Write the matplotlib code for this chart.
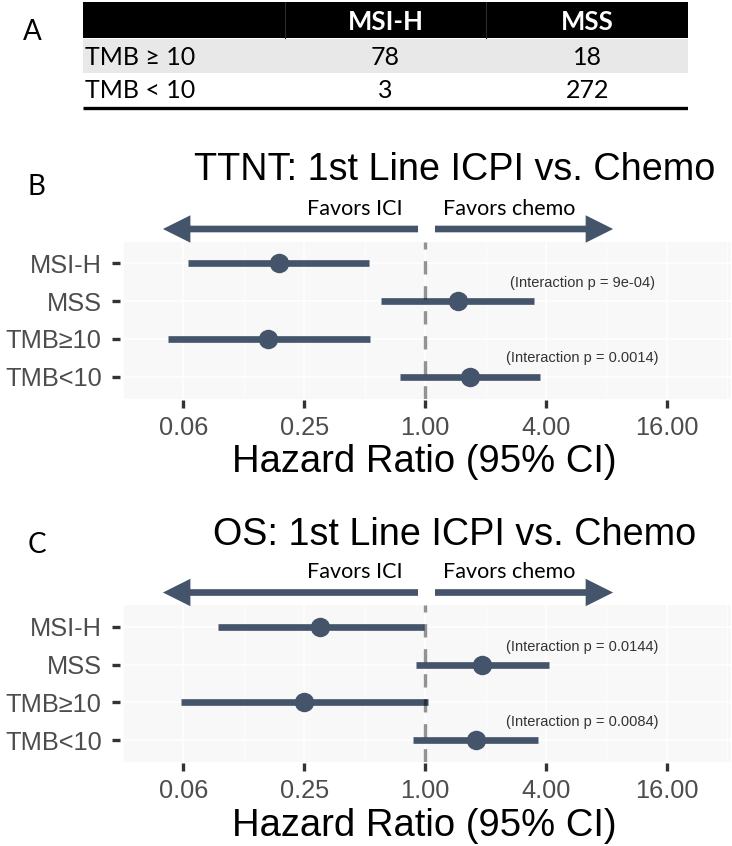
import matplotlib
matplotlib.use("Agg")
import matplotlib.pyplot as plt
from matplotlib.patches import Rectangle
from matplotlib.ticker import FixedLocator, NullFormatter
import numpy as np

# ---------------- data ----------------
table_cols = ["MSI-H", "MSS"]
table_rows = ["TMB \u2265 10", "TMB < 10"]
table_counts = [[78, 18], [3, 272]]

groups = ["MSI-H", "MSS", "TMB\u226510", "TMB<10"]

ttnt_hr = [0.187, 1.45, 0.165, 1.67]
ttnt_lo = [0.066, 0.60, 0.0525, 0.75]
ttnt_hi = [0.526, 3.49, 0.531, 3.73]
ttnt_inter = ["(Interaction p = 9e-04)", "(Interaction p = 0.0014)"]

os_hr = [0.299, 1.92, 0.249, 1.79]
os_lo = [0.0925, 0.897, 0.0607, 0.869]
os_hi = [0.988, 4.13, 1.036, 3.63]
os_inter = ["(Interaction p = 0.0144)", "(Interaction p = 0.0084)"]

tick_values = [0.0625, 0.25, 1, 4, 16]
tick_labels = ["0.06", "0.25", "1.00", "4.00", "16.00"]
minor_values = [0.03125, 0.125, 0.5, 2, 8, 32]

# ---------------- layout ----------------
W, H = 732, 846
fig = plt.figure(figsize=(W / 100, H / 100), dpi=100)
fig.patch.set_facecolor("white")


def fx(px):
    return px / W


def fy(py):
    return 1 - py / H


SANS = ["Liberation Sans", "DejaVu Sans"]
CAL = ["Lato", "DejaVu Sans"]
DARK = "#44546A"

# ---------------- Panel A: table ----------------
tab = fig.add_axes([fx(82.7), fy(112), fx(688.3) - fx(82.7), 112 / H])
tab.set_xlim(0, 3)
tab.set_ylim(112, 0)
tab.axis("off")
row_bounds = [(2, 38.3), (39.3, 72.7), (72.7, 106)]
row_fill = ["black", "#E8E8E8", "white"]
for (y0, y1), c in zip(row_bounds, row_fill):
    tab.add_patch(Rectangle((0, y0), 3, y1 - y0, facecolor=c, edgecolor="none"))
for xc in (1, 2):
    tab.plot([xc, xc], [2, 38.3], color="#2b2b2b", lw=0.8)
tab.plot([0, 3], [108.3, 108.3], color="black", lw=2.4, solid_capstyle="butt")
baselines = [30, 65, 98.3]
for j, col in enumerate(table_cols):
    tab.text(1.5 + j, baselines[0], col, ha="center", va="baseline",
             color="white", fontweight="bold", family=CAL, fontsize=18.5)
for i, row in enumerate(table_rows):
    tab.text(0.012, baselines[i + 1], row, ha="left", va="baseline",
             family=CAL, fontsize=18, color="black")
    for j in range(len(table_cols)):
        tab.text(1.5 + j, baselines[i + 1], str(table_counts[i][j]), ha="center",
                 va="baseline", family=CAL, fontsize=18, color="black")

fig.text(fx(23), fy(40), "A", ha="left", va="baseline", family=CAL, fontsize=20)


# ---------------- Panels B, C: forest plots ----------------
def forest(top_px, hr, lo, hi, inter, title, title_base, label, label_base):
    ph = 157
    ax = fig.add_axes([fx(123), fy(top_px + ph), fx(731) - fx(123), ph / H])
    ax.set_xscale("log", base=2)
    ax.set_xlim(2 ** -5.0, 2 ** 5.06)
    ax.set_ylim(0.42, 4.58)
    ax.set_facecolor("#F8F8F8")
    for s in ax.spines.values():
        s.set_visible(False)
    ax.spines["left"].set_position(("outward", 2.5))
    ax.spines["bottom"].set_position(("outward", 1.0))

    ypos = np.arange(len(groups))[::-1] + 1
    ax.hlines(ypos, lo, hi, color=DARK, lw=4.8, zorder=3, capstyle="butt")
    ax.plot(hr, ypos, "o", ms=14, color=DARK, zorder=4, markeredgewidth=0)
    ax.axvline(1, color="black", alpha=0.42, lw=2.4, dashes=(4, 3.5), zorder=5)

    ax.xaxis.set_major_locator(FixedLocator(tick_values))
    ax.set_xticklabels(tick_labels)
    ax.xaxis.set_minor_locator(FixedLocator(minor_values))
    ax.xaxis.set_minor_formatter(NullFormatter())
    ax.set_yticks(ypos)
    ax.set_yticklabels(groups)
    for lab in ax.get_xticklabels() + ax.get_yticklabels():
        lab.set_family(SANS)
    ax.tick_params(axis="both", which="major", length=5.5, width=2.4,
                   color="#333333", labelsize=18.3, labelcolor="#4D4D4D")
    ax.tick_params(axis="x", which="major", pad=6.0)
    ax.tick_params(axis="y", which="major", pad=7.3)
    ax.tick_params(axis="x", which="minor", length=0)
    ax.grid(True, which="major", color="white", lw=1.1)
    ax.grid(True, which="minor", axis="x", color="white", lw=0.6)
    ax.set_axisbelow(True)

    # interaction p-values above MSS and TMB<10 rows
    ax.text(6.05, ypos[1] + 0.48, inter[0], ha="center", va="center",
            fontsize=10.5, color="#333333", family=SANS, zorder=6)
    ax.text(6.05, ypos[3] + 0.48, inter[1], ha="center", va="center",
            fontsize=10.5, color="#333333", family=SANS, zorder=6)

    # favors arrows above panel
    tr = ax.get_xaxis_transform()
    ya = 1 + 12.5 / ph
    yt = 1 + 26.7 / ph
    style = "-|>,head_length=1.0,head_width=0.5"
    for start, tip in ((0.921, 0.0494), (1.119, 8.63)):
        ax.annotate("", xy=(tip, ya), xytext=(start, ya), xycoords=tr, textcoords=tr,
                    arrowprops=dict(arrowstyle=style, mutation_scale=12, lw=4.8,
                                    color=DARK, shrinkA=0, shrinkB=0,
                                    capstyle="butt", joinstyle="miter"),
                    annotation_clip=False)
    ax.text(0.775, yt, "Favors ICI", transform=tr, ha="right", va="baseline",
            family=CAL, fontsize=15.5, color="black", clip_on=False)
    ax.text(1.227, yt, "Favors chemo", transform=tr, ha="left", va="baseline",
            family=CAL, fontsize=15.5, color="black", clip_on=False)

    fig.text(fx(455), fy(title_base), title, ha="center", va="baseline",
             family=SANS, fontsize=27.2, color="black")
    fig.text(fx(424.5), fy(top_px + ph + 74), "Hazard Ratio (95% CI)",
             ha="center", va="baseline", family=SANS, fontsize=27.5, color="black")
    fig.text(fx(28), fy(label_base), label, ha="left", va="baseline",
             family=CAL, fontsize=20, color="black")
    return ax


forest(241.5, ttnt_hr, ttnt_lo, ttnt_hi, ttnt_inter,
       "TTNT: 1st Line ICPI vs. Chemo", 180, "B", 195)
forest(605, os_hr, os_lo, os_hi, os_inter,
       "OS: 1st Line ICPI vs. Chemo", 545, "C", 553.3)

fig.savefig("out.png", dpi=100)
